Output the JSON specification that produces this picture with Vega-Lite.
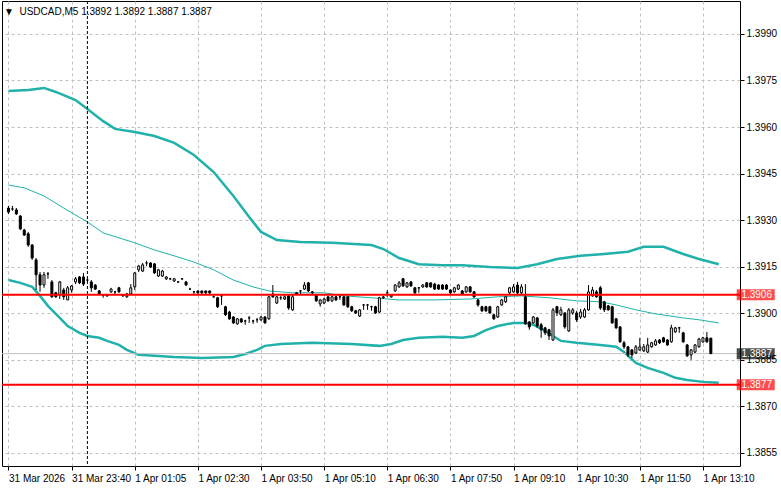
{
"$schema": "https://vega.github.io/schema/vega-lite/v6.json",
"width": 738, "height": 465,
"autosize": "none",
"padding": {"left": 2, "top": 1, "right": 41, "bottom": 23},
"background": "white",
"title": {"text": "▼ \u00a0USDCAD,M5 1.3892 1.3892 1.3887 1.3887", "anchor": "start", "orient": "top", "offset": -24, "dx": 3, "font": "Liberation Sans", "fontSize": 10, "fontWeight": "normal", "color": "black", "baseline": "alphabetic"},
"config": {"view": {"stroke": "black", "strokeWidth": 1}},
"datasets": {
"candles": [
{"i":0,"o":1.39339,"h":1.39346,"l":1.39320,"c":1.39326},
{"i":1,"o":1.39336,"h":1.39346,"l":1.39330,"c":1.39336},
{"i":2,"o":1.39333,"h":1.39339,"l":1.39317,"c":1.39320},
{"i":3,"o":1.39313,"h":1.39317,"l":1.39268,"c":1.39272},
{"i":4,"o":1.39268,"h":1.39272,"l":1.39249,"c":1.39252},
{"i":5,"o":1.39256,"h":1.39262,"l":1.39214,"c":1.39220},
{"i":6,"o":1.39220,"h":1.39223,"l":1.39172,"c":1.39178},
{"i":7,"o":1.39172,"h":1.39178,"l":1.39075,"c":1.39124},
{"i":8,"o":1.39124,"h":1.39133,"l":1.39069,"c":1.39091},
{"i":9,"o":1.39091,"h":1.39133,"l":1.39082,"c":1.39124},
{"i":10,"o":1.39127,"h":1.39133,"l":1.39111,"c":1.39127},
{"i":11,"o":1.39101,"h":1.39107,"l":1.39050,"c":1.39053},
{"i":12,"o":1.39066,"h":1.39069,"l":1.39050,"c":1.39053},
{"i":13,"o":1.39059,"h":1.39104,"l":1.39046,"c":1.39101},
{"i":14,"o":1.39075,"h":1.39082,"l":1.39043,"c":1.39053},
{"i":15,"o":1.39043,"h":1.39088,"l":1.39043,"c":1.39082},
{"i":16,"o":1.39075,"h":1.39091,"l":1.39066,"c":1.39088},
{"i":17,"o":1.39101,"h":1.39117,"l":1.39094,"c":1.39111},
{"i":18,"o":1.39117,"h":1.39120,"l":1.39094,"c":1.39098},
{"i":19,"o":1.39117,"h":1.39130,"l":1.39088,"c":1.39094},
{"i":20,"o":1.39107,"h":1.39114,"l":1.39101,"c":1.39107},
{"i":21,"o":1.39101,"h":1.39107,"l":1.39069,"c":1.39082},
{"i":22,"o":1.39091,"h":1.39094,"l":1.39075,"c":1.39078},
{"i":23,"o":1.39072,"h":1.39075,"l":1.39059,"c":1.39062},
{"i":24,"o":1.39059,"h":1.39062,"l":1.39050,"c":1.39059},
{"i":25,"o":1.39059,"h":1.39062,"l":1.39053,"c":1.39056},
{"i":26,"o":1.39069,"h":1.39082,"l":1.39066,"c":1.39078},
{"i":27,"o":1.39069,"h":1.39072,"l":1.39059,"c":1.39069},
{"i":28,"o":1.39082,"h":1.39085,"l":1.39066,"c":1.39069},
{"i":29,"o":1.39059,"h":1.39062,"l":1.39053,"c":1.39056},
{"i":30,"o":1.39053,"h":1.39066,"l":1.39050,"c":1.39062},
{"i":31,"o":1.39062,"h":1.39094,"l":1.39059,"c":1.39082},
{"i":32,"o":1.39085,"h":1.39133,"l":1.39075,"c":1.39130},
{"i":33,"o":1.39140,"h":1.39156,"l":1.39133,"c":1.39152},
{"i":34,"o":1.39136,"h":1.39162,"l":1.39133,"c":1.39156},
{"i":35,"o":1.39162,"h":1.39169,"l":1.39152,"c":1.39162},
{"i":36,"o":1.39162,"h":1.39165,"l":1.39146,"c":1.39149},
{"i":37,"o":1.39159,"h":1.39162,"l":1.39127,"c":1.39130},
{"i":38,"o":1.39120,"h":1.39143,"l":1.39117,"c":1.39140},
{"i":39,"o":1.39120,"h":1.39140,"l":1.39117,"c":1.39136},
{"i":40,"o":1.39111,"h":1.39120,"l":1.39107,"c":1.39117},
{"i":41,"o":1.39111,"h":1.39114,"l":1.39107,"c":1.39111},
{"i":42,"o":1.39104,"h":1.39114,"l":1.39101,"c":1.39111},
{"i":43,"o":1.39101,"h":1.39104,"l":1.39098,"c":1.39101},
{"i":44,"o":1.39111,"h":1.39111,"l":1.39107,"c":1.39111},
{"i":45,"o":1.39101,"h":1.39104,"l":1.39088,"c":1.39091},
{"i":46,"o":1.39078,"h":1.39082,"l":1.39075,"c":1.39078},
{"i":47,"o":1.39069,"h":1.39072,"l":1.39062,"c":1.39069},
{"i":48,"o":1.39072,"h":1.39072,"l":1.39062,"c":1.39066},
{"i":49,"o":1.39072,"h":1.39072,"l":1.39062,"c":1.39066},
{"i":50,"o":1.39072,"h":1.39072,"l":1.39062,"c":1.39066},
{"i":51,"o":1.39072,"h":1.39072,"l":1.39062,"c":1.39066},
{"i":52,"o":1.39053,"h":1.39056,"l":1.39050,"c":1.39053},
{"i":53,"o":1.39050,"h":1.39053,"l":1.39017,"c":1.39021},
{"i":54,"o":1.39056,"h":1.39059,"l":1.39027,"c":1.39056},
{"i":55,"o":1.39021,"h":1.39024,"l":1.38991,"c":1.38995},
{"i":56,"o":1.39004,"h":1.39008,"l":1.38979,"c":1.38982},
{"i":57,"o":1.38988,"h":1.38991,"l":1.38966,"c":1.38969},
{"i":58,"o":1.38966,"h":1.38985,"l":1.38963,"c":1.38982},
{"i":59,"o":1.38982,"h":1.38985,"l":1.38969,"c":1.38972},
{"i":60,"o":1.38975,"h":1.38979,"l":1.38963,"c":1.38975},
{"i":61,"o":1.38985,"h":1.38991,"l":1.38969,"c":1.38985},
{"i":62,"o":1.38975,"h":1.38979,"l":1.38966,"c":1.38975},
{"i":63,"o":1.38979,"h":1.38985,"l":1.38969,"c":1.38979},
{"i":64,"o":1.38979,"h":1.38991,"l":1.38975,"c":1.38988},
{"i":65,"o":1.38988,"h":1.38991,"l":1.38966,"c":1.38969},
{"i":66,"o":1.38982,"h":1.39056,"l":1.38979,"c":1.39053},
{"i":67,"o":1.39062,"h":1.39091,"l":1.39050,"c":1.39053},
{"i":68,"o":1.39033,"h":1.39056,"l":1.39030,"c":1.39053},
{"i":69,"o":1.39050,"h":1.39056,"l":1.39043,"c":1.39050},
{"i":70,"o":1.39046,"h":1.39059,"l":1.39043,"c":1.39053},
{"i":71,"o":1.39056,"h":1.39062,"l":1.39011,"c":1.39017},
{"i":72,"o":1.39011,"h":1.39059,"l":1.39008,"c":1.39053},
{"i":73,"o":1.39066,"h":1.39069,"l":1.39062,"c":1.39062},
{"i":74,"o":1.39072,"h":1.39075,"l":1.39062,"c":1.39072},
{"i":75,"o":1.39078,"h":1.39101,"l":1.39075,"c":1.39091},
{"i":76,"o":1.39098,"h":1.39101,"l":1.39069,"c":1.39072},
{"i":77,"o":1.39069,"h":1.39072,"l":1.39062,"c":1.39066},
{"i":78,"o":1.39059,"h":1.39062,"l":1.39037,"c":1.39040},
{"i":79,"o":1.39030,"h":1.39046,"l":1.39021,"c":1.39043},
{"i":80,"o":1.39033,"h":1.39050,"l":1.39030,"c":1.39046},
{"i":81,"o":1.39053,"h":1.39056,"l":1.39037,"c":1.39040},
{"i":82,"o":1.39040,"h":1.39056,"l":1.39037,"c":1.39053},
{"i":83,"o":1.39053,"h":1.39056,"l":1.39040,"c":1.39043},
{"i":84,"o":1.39053,"h":1.39056,"l":1.39043,"c":1.39053},
{"i":85,"o":1.39053,"h":1.39056,"l":1.39024,"c":1.39027},
{"i":86,"o":1.39053,"h":1.39056,"l":1.39017,"c":1.39021},
{"i":87,"o":1.39021,"h":1.39024,"l":1.39004,"c":1.39008},
{"i":88,"o":1.39008,"h":1.39011,"l":1.38998,"c":1.39001},
{"i":89,"o":1.38991,"h":1.39014,"l":1.38988,"c":1.39011},
{"i":90,"o":1.39027,"h":1.39030,"l":1.39011,"c":1.39027},
{"i":91,"o":1.39027,"h":1.39030,"l":1.39011,"c":1.39027},
{"i":92,"o":1.39021,"h":1.39024,"l":1.39008,"c":1.39021},
{"i":93,"o":1.39021,"h":1.39024,"l":1.38998,"c":1.39001},
{"i":94,"o":1.39004,"h":1.39053,"l":1.39001,"c":1.39050},
{"i":95,"o":1.39050,"h":1.39056,"l":1.39046,"c":1.39053},
{"i":96,"o":1.39066,"h":1.39075,"l":1.39053,"c":1.39066},
{"i":97,"o":1.39053,"h":1.39062,"l":1.39050,"c":1.39059},
{"i":98,"o":1.39072,"h":1.39094,"l":1.39069,"c":1.39091},
{"i":99,"o":1.39085,"h":1.39104,"l":1.39082,"c":1.39098},
{"i":100,"o":1.39111,"h":1.39114,"l":1.39085,"c":1.39088},
{"i":101,"o":1.39085,"h":1.39101,"l":1.39082,"c":1.39098},
{"i":102,"o":1.39101,"h":1.39104,"l":1.39085,"c":1.39088},
{"i":103,"o":1.39082,"h":1.39085,"l":1.39062,"c":1.39066},
{"i":104,"o":1.39082,"h":1.39085,"l":1.39066,"c":1.39082},
{"i":105,"o":1.39085,"h":1.39094,"l":1.39082,"c":1.39091},
{"i":106,"o":1.39098,"h":1.39101,"l":1.39082,"c":1.39085},
{"i":107,"o":1.39098,"h":1.39098,"l":1.39082,"c":1.39085},
{"i":108,"o":1.39094,"h":1.39098,"l":1.39075,"c":1.39078},
{"i":109,"o":1.39091,"h":1.39094,"l":1.39075,"c":1.39078},
{"i":110,"o":1.39091,"h":1.39094,"l":1.39075,"c":1.39078},
{"i":111,"o":1.39091,"h":1.39094,"l":1.39075,"c":1.39078},
{"i":112,"o":1.39075,"h":1.39078,"l":1.39062,"c":1.39066},
{"i":113,"o":1.39069,"h":1.39085,"l":1.39066,"c":1.39082},
{"i":114,"o":1.39078,"h":1.39094,"l":1.39075,"c":1.39091},
{"i":115,"o":1.39072,"h":1.39075,"l":1.39059,"c":1.39062},
{"i":116,"o":1.39069,"h":1.39088,"l":1.39066,"c":1.39085},
{"i":117,"o":1.39085,"h":1.39088,"l":1.39066,"c":1.39069},
{"i":118,"o":1.39069,"h":1.39072,"l":1.39050,"c":1.39053},
{"i":119,"o":1.39043,"h":1.39046,"l":1.39021,"c":1.39027},
{"i":120,"o":1.39021,"h":1.39024,"l":1.39004,"c":1.39008},
{"i":121,"o":1.39021,"h":1.39024,"l":1.39004,"c":1.39008},
{"i":122,"o":1.39021,"h":1.39024,"l":1.38998,"c":1.39001},
{"i":123,"o":1.38995,"h":1.38998,"l":1.38979,"c":1.38982},
{"i":124,"o":1.38988,"h":1.39024,"l":1.38985,"c":1.39021},
{"i":125,"o":1.39027,"h":1.39046,"l":1.39024,"c":1.39043},
{"i":126,"o":1.39037,"h":1.39056,"l":1.39033,"c":1.39053},
{"i":127,"o":1.39066,"h":1.39085,"l":1.39062,"c":1.39082},
{"i":128,"o":1.39069,"h":1.39094,"l":1.39066,"c":1.39085},
{"i":129,"o":1.39091,"h":1.39101,"l":1.39062,"c":1.39066},
{"i":130,"o":1.39066,"h":1.39094,"l":1.39062,"c":1.39085},
{"i":131,"o":1.39053,"h":1.39094,"l":1.38963,"c":1.38966},
{"i":132,"o":1.38972,"h":1.38975,"l":1.38947,"c":1.38956},
{"i":133,"o":1.38969,"h":1.38991,"l":1.38966,"c":1.38988},
{"i":134,"o":1.38985,"h":1.38988,"l":1.38953,"c":1.38959},
{"i":135,"o":1.38963,"h":1.38969,"l":1.38921,"c":1.38947},
{"i":136,"o":1.38953,"h":1.38956,"l":1.38930,"c":1.38937},
{"i":137,"o":1.38947,"h":1.38950,"l":1.38914,"c":1.38927},
{"i":138,"o":1.38914,"h":1.39017,"l":1.38911,"c":1.39011},
{"i":139,"o":1.39021,"h":1.39024,"l":1.38991,"c":1.39001},
{"i":140,"o":1.38995,"h":1.39021,"l":1.38991,"c":1.39011},
{"i":141,"o":1.39001,"h":1.39004,"l":1.38950,"c":1.38956},
{"i":142,"o":1.38943,"h":1.39017,"l":1.38940,"c":1.39011},
{"i":143,"o":1.39001,"h":1.39017,"l":1.38995,"c":1.39011},
{"i":144,"o":1.39001,"h":1.39008,"l":1.38972,"c":1.38979},
{"i":145,"o":1.38988,"h":1.39014,"l":1.38982,"c":1.39004},
{"i":146,"o":1.38988,"h":1.39017,"l":1.38985,"c":1.39011},
{"i":147,"o":1.39011,"h":1.39091,"l":1.39008,"c":1.39069},
{"i":148,"o":1.39056,"h":1.39085,"l":1.39053,"c":1.39075},
{"i":149,"o":1.39069,"h":1.39075,"l":1.39050,"c":1.39053},
{"i":150,"o":1.39082,"h":1.39088,"l":1.39011,"c":1.39017},
{"i":151,"o":1.39037,"h":1.39040,"l":1.39004,"c":1.39011},
{"i":152,"o":1.39024,"h":1.39027,"l":1.39008,"c":1.39011},
{"i":153,"o":1.39021,"h":1.39024,"l":1.38966,"c":1.38969},
{"i":154,"o":1.38982,"h":1.38985,"l":1.38950,"c":1.38953},
{"i":155,"o":1.38956,"h":1.38959,"l":1.38905,"c":1.38908},
{"i":156,"o":1.38905,"h":1.38911,"l":1.38885,"c":1.38892},
{"i":157,"o":1.38892,"h":1.38895,"l":1.38859,"c":1.38866},
{"i":158,"o":1.38882,"h":1.38885,"l":1.38856,"c":1.38866},
{"i":159,"o":1.38872,"h":1.38898,"l":1.38869,"c":1.38892},
{"i":160,"o":1.38882,"h":1.38921,"l":1.38879,"c":1.38892},
{"i":161,"o":1.38879,"h":1.38901,"l":1.38875,"c":1.38892},
{"i":162,"o":1.38875,"h":1.38921,"l":1.38872,"c":1.38898},
{"i":163,"o":1.38892,"h":1.38908,"l":1.38889,"c":1.38905},
{"i":164,"o":1.38898,"h":1.38917,"l":1.38895,"c":1.38911},
{"i":165,"o":1.38914,"h":1.38917,"l":1.38901,"c":1.38905},
{"i":166,"o":1.38921,"h":1.38924,"l":1.38905,"c":1.38908},
{"i":167,"o":1.38914,"h":1.38917,"l":1.38895,"c":1.38898},
{"i":168,"o":1.38908,"h":1.38963,"l":1.38905,"c":1.38953},
{"i":169,"o":1.38940,"h":1.38956,"l":1.38937,"c":1.38953},
{"i":170,"o":1.38953,"h":1.38956,"l":1.38937,"c":1.38953},
{"i":171,"o":1.38937,"h":1.38940,"l":1.38905,"c":1.38908},
{"i":172,"o":1.38898,"h":1.38901,"l":1.38859,"c":1.38863},
{"i":173,"o":1.38866,"h":1.38885,"l":1.38850,"c":1.38882},
{"i":174,"o":1.38875,"h":1.38901,"l":1.38872,"c":1.38898},
{"i":175,"o":1.38892,"h":1.38921,"l":1.38889,"c":1.38917},
{"i":176,"o":1.38908,"h":1.38924,"l":1.38905,"c":1.38921},
{"i":177,"o":1.38921,"h":1.38940,"l":1.38905,"c":1.38908},
{"i":178,"o":1.3892,"h":1.3892,"l":1.3887,"c":1.3887}
],
"bands": [
{"i":0,"b":"u","p":1.39716},{"i":5,"b":"u","p":1.39719},{"i":9,"b":"u","p":1.39726},{"i":12,"b":"u","p":1.39713},{"i":17,"b":"u","p":1.39687},{"i":20,"b":"u","p":1.39658},{"i":24,"b":"u","p":1.39619},{"i":27,"b":"u","p":1.39594},{"i":32,"b":"u","p":1.39584},{"i":37,"b":"u","p":1.39571},{"i":42,"b":"u","p":1.39549},{"i":47,"b":"u","p":1.39510},{"i":52,"b":"u","p":1.39455},{"i":57,"b":"u","p":1.39378},{"i":61,"b":"u","p":1.39310},{"i":64,"b":"u","p":1.39262},{"i":68,"b":"u","p":1.39236},{"i":74,"b":"u","p":1.39230},{"i":82,"b":"u","p":1.39227},{"i":92,"b":"u","p":1.39220},{"i":95,"b":"u","p":1.39207},{"i":99,"b":"u","p":1.39178},{"i":104,"b":"u","p":1.39158},{"i":110,"b":"u","p":1.39155},{"i":115,"b":"u","p":1.39155},{"i":122,"b":"u","p":1.39149},{"i":129,"b":"u","p":1.39146},{"i":134,"b":"u","p":1.39158},{"i":139,"b":"u","p":1.39175},{"i":145,"b":"u","p":1.39185},{"i":151,"b":"u","p":1.39191},{"i":157,"b":"u","p":1.39198},{"i":161,"b":"u","p":1.39214},{"i":166,"b":"u","p":1.39214},{"i":171,"b":"u","p":1.39191},{"i":175,"b":"u","p":1.39175},{"i":180,"b":"u","p":1.39158},
{"i":0,"b":"m","p":1.39413},{"i":4,"b":"m","p":1.39404},{"i":9,"b":"m","p":1.39378},{"i":14,"b":"m","p":1.39339},{"i":20,"b":"m","p":1.39294},{"i":24,"b":"m","p":1.39259},{"i":32,"b":"m","p":1.39227},{"i":37,"b":"m","p":1.39204},{"i":42,"b":"m","p":1.39185},{"i":47,"b":"m","p":1.39165},{"i":52,"b":"m","p":1.39140},{"i":57,"b":"m","p":1.39107},{"i":62,"b":"m","p":1.39085},{"i":66,"b":"m","p":1.39072},{"i":72,"b":"m","p":1.39066},{"i":80,"b":"m","p":1.39066},{"i":85,"b":"m","p":1.39056},{"i":92,"b":"m","p":1.39050},{"i":99,"b":"m","p":1.39043},{"i":108,"b":"m","p":1.39043},{"i":117,"b":"m","p":1.39046},{"i":124,"b":"m","p":1.39053},{"i":130,"b":"m","p":1.39056},{"i":137,"b":"m","p":1.39050},{"i":144,"b":"m","p":1.39040},{"i":150,"b":"m","p":1.39037},{"i":154,"b":"m","p":1.39027},{"i":159,"b":"m","p":1.39011},{"i":164,"b":"m","p":1.38998},{"i":171,"b":"m","p":1.38985},{"i":175,"b":"m","p":1.38979},{"i":180,"b":"m","p":1.38969},
{"i":0,"b":"l","p":1.39107},{"i":3,"b":"l","p":1.39098},{"i":6,"b":"l","p":1.39085},{"i":8,"b":"l","p":1.39056},{"i":10,"b":"l","p":1.39024},{"i":13,"b":"l","p":1.38985},{"i":15,"b":"l","p":1.38959},{"i":18,"b":"l","p":1.38937},{"i":20,"b":"l","p":1.38927},{"i":23,"b":"l","p":1.38921},{"i":25,"b":"l","p":1.38911},{"i":28,"b":"l","p":1.38898},{"i":30,"b":"l","p":1.38882},{"i":33,"b":"l","p":1.38866},{"i":37,"b":"l","p":1.38863},{"i":42,"b":"l","p":1.38859},{"i":49,"b":"l","p":1.38856},{"i":57,"b":"l","p":1.38859},{"i":60,"b":"l","p":1.38869},{"i":63,"b":"l","p":1.38882},{"i":65,"b":"l","p":1.38895},{"i":69,"b":"l","p":1.38901},{"i":77,"b":"l","p":1.38905},{"i":87,"b":"l","p":1.38901},{"i":94,"b":"l","p":1.38895},{"i":97,"b":"l","p":1.38901},{"i":100,"b":"l","p":1.38914},{"i":104,"b":"l","p":1.38921},{"i":110,"b":"l","p":1.38924},{"i":115,"b":"l","p":1.38921},{"i":118,"b":"l","p":1.38927},{"i":121,"b":"l","p":1.38946},{"i":124,"b":"l","p":1.38959},{"i":128,"b":"l","p":1.38969},{"i":131,"b":"l","p":1.38969},{"i":133,"b":"l","p":1.38963},{"i":136,"b":"l","p":1.38943},{"i":138,"b":"l","p":1.38927},{"i":140,"b":"l","p":1.38911},{"i":144,"b":"l","p":1.38905},{"i":150,"b":"l","p":1.38898},{"i":154,"b":"l","p":1.38892},{"i":156,"b":"l","p":1.38875},{"i":159,"b":"l","p":1.38840},{"i":162,"b":"l","p":1.38824},{"i":166,"b":"l","p":1.38808},{"i":169,"b":"l","p":1.38792},{"i":172,"b":"l","p":1.38785},{"i":176,"b":"l","p":1.38779},{"i":180,"b":"l","p":1.38776}
],
"levels": [
{"p":1.3906,"t":"1.3906","k":"red"},
{"p":1.3877,"t":"1.3877","k":"red"},
{"p":1.3887,"t":"1.3887","k":"cur"}
],
"sep": [{"i":20}]
},
"layer": [
{
"data": {"name": "bands"},
"transform": [{"filter": "datum.b !== 'm'"}],
"mark": {"type": "line", "color": "#20B2AA", "strokeWidth": 2.5},
"encoding": {
"x": {"field": "i", "type": "quantitative", "title": null, "scale": {"domain": [-0.375, 184.125], "nice": false, "zero": false},
"axis": {"orient": "bottom", "values": [0,8,16,24,32,40,48,56,64,72,80,88,96,104,112,120,128,136,144,152,160,168,176,184],
"labelExpr": "datum.value % 16 === 0 ? ['31 Mar 2026','31 Mar 23:40','1 Apr 01:05','1 Apr 02:30','1 Apr 03:50','1 Apr 05:10','1 Apr 06:30','1 Apr 07:50','1 Apr 09:10','1 Apr 10:30','1 Apr 11:50','1 Apr 13:10'][datum.value/16] : ''",
"labelAlign": "left", "labelBaseline": "top", "labelPadding": 3, "labelFont": "Liberation Sans", "labelFontSize": 10, "labelColor": "black",
"labelOverlap": false, "labelBound": false, "labelFlush": false, "tickColor": "black", "tickSize": 4,
"tickOpacity": {"condition": {"test": "datum.value % 16 === 0", "value": 1}, "value": 0},
"grid": true, "gridColor": "#c0c0c0", "gridDash": [3, 3], "domain": false, "title": null}},
"y": {"field": "p", "type": "quantitative", "title": null, "scale": {"domain": [1.38508, 1.40006], "nice": false, "zero": false},
"axis": {"orient": "right", "values": [1.3855, 1.387, 1.3885, 1.39, 1.3915, 1.393, 1.3945, 1.396, 1.3975, 1.399], "format": ".4f",
"labelFont": "Liberation Sans", "labelFontSize": 10, "labelColor": "black", "labelPadding": 2, "tickSize": 4, "tickColor": "black",
"grid": true, "gridColor": "#c0c0c0", "gridDash": [3, 3], "domain": false, "title": null, "labelBound": false, "labelOverlap": false}},
"detail": {"field": "b"}
}
},
{
"data": {"name": "bands"},
"transform": [{"filter": "datum.b === 'm'"}],
"mark": {"type": "line", "color": "#20B2AA", "strokeWidth": 1},
"encoding": {
"x": {"field": "i", "type": "quantitative", "title": null, "scale": {"domain": [-0.375, 184.125], "nice": false, "zero": false}},
"y": {"field": "p", "type": "quantitative", "title": null, "scale": {"domain": [1.38508, 1.40006], "nice": false, "zero": false}}
}
},
{
"data": {"name": "sep"},
"mark": {"type": "rule", "color": "black", "strokeWidth": 1, "strokeDash": [3, 2]},
"encoding": {
"x": {"field": "i", "type": "quantitative", "title": null, "scale": {"domain": [-0.375, 184.125], "nice": false, "zero": false}}
}
},
{
"data": {"name": "levels"},
"transform": [{"filter": "datum.k === 'cur'"}],
"mark": {"type": "rule", "color": "#c0c0c0", "strokeWidth": 1},
"encoding": {
"y": {"field": "p", "type": "quantitative", "title": null, "scale": {"domain": [1.38508, 1.40006], "nice": false, "zero": false}}
}
},
{
"data": {"name": "candles"},
"mark": {"type": "rule", "color": "black", "strokeWidth": 1},
"encoding": {
"x": {"field": "i", "type": "quantitative", "title": null, "scale": {"domain": [-0.375, 184.125], "nice": false, "zero": false}},
"y": {"field": "l", "type": "quantitative", "title": null, "scale": {"domain": [1.38508, 1.40006], "nice": false, "zero": false}},
"y2": {"field": "h"}
}
},
{
"data": {"name": "candles"},
"mark": {"type": "bar", "size": 2, "stroke": "black", "strokeWidth": 1},
"encoding": {
"x": {"field": "i", "type": "quantitative", "title": null, "scale": {"domain": [-0.375, 184.125], "nice": false, "zero": false}},
"y": {"field": "o", "type": "quantitative", "title": null, "scale": {"domain": [1.38508, 1.40006], "nice": false, "zero": false}},
"y2": {"field": "c"},
"fill": {"condition": {"test": "datum.c < datum.o", "value": "black"}, "value": "white"}
}
},
{
"data": {"name": "levels"},
"transform": [{"filter": "datum.k === 'red'"}],
"mark": {"type": "rule", "color": "#ff0000", "strokeWidth": 2},
"encoding": {
"y": {"field": "p", "type": "quantitative", "title": null, "scale": {"domain": [1.38508, 1.40006], "nice": false, "zero": false}}
}
},
{
"data": {"name": "levels"},
"mark": {"type": "tick", "orient": "horizontal", "size": 38, "thickness": 11, "clip": false},
"encoding": {
"x": {"datum": 189.375, "type": "quantitative", "scale": {"domain": [-0.375, 184.125], "nice": false, "zero": false}},
"y": {"field": "p", "type": "quantitative", "title": null, "scale": {"domain": [1.38508, 1.40006], "nice": false, "zero": false}},
"color": {"condition": {"test": "datum.k === 'red'", "value": "#ff0000"}, "value": "black"}
}
},
{
"data": {"name": "levels"},
"mark": {"type": "text", "align": "left", "baseline": "middle", "font": "Liberation Sans", "fontSize": 10, "color": "white", "clip": false},
"encoding": {
"x": {"datum": 185.75, "type": "quantitative", "scale": {"domain": [-0.375, 184.125], "nice": false, "zero": false}},
"y": {"field": "p", "type": "quantitative", "title": null, "scale": {"domain": [1.38508, 1.40006], "nice": false, "zero": false}},
"text": {"field": "t"}
}
}
]
}
